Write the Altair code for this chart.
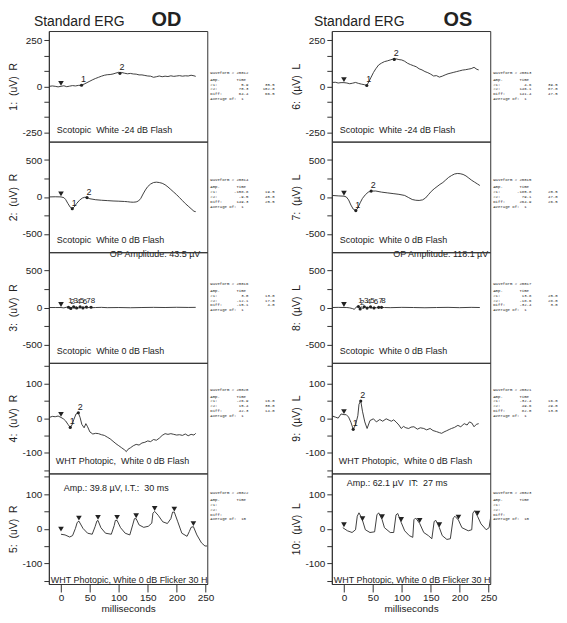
import altair as alt
import pandas as pd

NB = "\u00a0"

# ---------------- data ----------------
# OD (right eye)
od1_t = [-20,-15,-10,-5,0,5,10,15,20,25,30,35,40,45,50,55,60,65,70,75,80,85,90,95,100,102,105,110,115,120,125,130,135,140,145,150,155,160,165,170,175,180,185,190,195,200,205,210,215,220,225,230,233]
od1_v = [0,2,0,-3,0,3,-2,1,4,2,5,6,12,20,28,36,43,49,55,60,63,64,67,72,76,72,75,71,68,70,67,66,62,62,59,56,55,49,52,56,52,55,53,57,54,56,58,55,57,56,60,57,54]

od2_t = [-20,-10,0,5,8,12,16,19.5,23,27,32,37,41,45,50,60,70,80,90,100,110,115,120,125,130,134,138,142,146,150,155,160,165,170,175,180,185,190,195,200,205,210,215,220,225,230,233]
od2_v = [0,2,0,-10,-35,-90,-140,-159,-135,-90,-45,-15,-5,-10,-25,-38,-45,-50,-55,-58,-62,-65,-70,-72,-68,-55,-20,40,95,140,175,195,200,195,185,165,135,100,65,30,-10,-50,-90,-125,-160,-195,-200]

od3_t = [-20,-10,0,5,10,13,15,17,20,23,26,30,34,38,42,46,50,55,60,70,80,100,120,140,160,180,200,220,233]
od3_v = [0,0,0,-5,5,3,-10,-12,8,-8,10,-6,8,-5,6,-3,4,-2,0,2,-2,0,-3,0,2,0,3,1,2]

od4_t = [-20,-15,-10,-5,0,4,8,12,16,19,22,26,30,33,36,40,43,46,50,55,60,65,70,75,80,85,90,95,100,105,110,113,116,120,125,130,135,140,145,150,155,160,165,170,175,180,185,190,195,200,205,210,215,220,225,230,233]
od4_v = [2,5,4,6,2,-2,-8,-18,-27,-20,-5,12,15,2,-18,-28,-16,-25,-40,-46,-44,-45,-48,-50,-55,-60,-67,-74,-80,-86,-92,-97,-90,-86,-80,-76,-78,-72,-70,-66,-68,-62,-64,-58,-50,-45,-47,-45,-47,-49,-48,-50,-46,-51,-47,-49,-44]

od5_t = [0,7,15,20,25,28,31,38,46,54,59,62,64,69,77,87,92,94,97,103,111,119,124,127,130,135,143,151,157,159,162,168,176,184,190,193,196,202,209,218,222,225,229,235,243,249,253]
od5_v = [-16,-18,-24,-20,1,18,22,1,-13,-16,6,22,24,3,-13,-16,9,24,24,3,-13,-18,11,29,29,11,4,7,16,45,50,39,20,15,29,48,48,20,-13,-22,-8,4,6,-18,-41,-50,-50]

# OS (left eye)
os1_t = [-20,-15,-10,-5,0,5,10,15,20,25,30,35,39.5,43,47,51,55,60,65,70,75,80,85,87,90,95,100,105,110,115,120,125,130,135,140,145,150,155,160,165,170,175,180,185,190,195,200,205,210,215,220,225,230,233]
os1_v = [21,22,18,20,20,18,14,17,21,16,12,9,5,25,50,75,95,116,126,134,138,143,148,146,149,145,143,136,125,118,112,106,95,89,80,74,66,56,58,50,55,62,68,72,76,80,84,88,90,93,96,103,92,89]

os2_t = [-20,-10,0,4,8,12,16,20.5,24,28,32,37,42,47,55,65,75,85,95,105,112,118,124,130,136,141,146,151,156,161,166,171,176,181,186,191,196,201,206,211,216,221,226,231,235]
os2_v = [20,14,10,0,-40,-110,-165,-186,-150,-80,-20,30,65,79,80,65,55,45,35,20,-10,-35,-45,-48,-40,-15,30,75,110,140,170,195,230,265,290,310,318,315,305,285,255,225,200,175,155]

os3_t = [-20,-10,0,5,10,15,18,21,24,27,30,33,36,40,44,48,52,56,60,70,80,100,120,140,160,180,200,220,235]
os3_v = [0,2,0,0,-5,-15,-25,5,14,-10,12,-18,10,-8,8,-6,5,-3,2,0,-2,2,0,-3,0,2,-2,2,0]

os4_t = [-20,-15,-10,-5,0,4,8,12,16,20,24,26,29,32,36,40,45,51,56,62,67,73,78,82,86,90,95,99,103,107,112,116,121,127,132,138,143,149,154,160,165,169,173,177,182,186,191,197,202,208,213,217,221,225,229,233]
os4_v = [6,3,0,12,10,10,3,-12,-32,-20,7,40,50,20,-11,-30,-7,-2,-11,-4,-9,-2,-6,-9,-5,-11,-20,-30,-24,-28,-30,-26,-25,-32,-28,-30,-34,-30,-36,-39,-42,-44,-40,-37,-33,-30,-27,-21,-25,-16,-20,-11,-14,-25,-18,-16]

os5_t = [-2,6,14,20,23,26,31,37,45,53,57,60,66,70,80,86,90,93,99,105,113,119,121,124,131,138,146,152,156,159,165,170,178,184,189,192,198,204,215,221,223,226,231,237,246,251,254]
os5_v = [3,-6,-11,-3,36,46,30,-3,-11,-9,40,46,26,3,-11,-11,40,44,18,-6,-20,-25,26,31,15,-11,-20,-29,21,24,3,-20,-31,-29,31,36,25,3,-6,-3,45,52,36,14,-3,3,36]

# stimulus / peak triangles
od_tri = [([0], [0]), ([0], [0]), ([0], [0]), ([0], [2]),
          ([0,31,64,97,130,162,196,229], [-10,22,24,24,29,50,48,6])]
os_tri = [([0], [20]), ([0], [10]), ([0], [0]), ([0], [10]),
          ([0,32,66,99,131,165,198,231], [3,20,26,18,15,3,25,36])]

# numbered cursor markers
od_mk = [([35.5,102], [5.9,70.3], ["1","2"]),
         ([19.5,45], [-158.8,-9.5], ["1","2"]),
         ([13,17,22,27,33,38,44,52], [3,-12.1,8,-6,8,-5,6,4], ["1","2","3","4","5","6","7","8"]),
         ([16,30], [-26.9,15.4], ["1","2"]),
         None]
os_mk = [([39.5,87], [4.6,146.1], ["1","2"]),
         ([20.5,47], [-185.8,79.1], ["1","2"]),
         ([25,28,35,40,46,52,60,65], [13.8,-18.6,10,-8,8,-6,2,2], ["1","2","3","4","5","6","7","8"]),
         ([16,29], [-32.4,49.6], ["1","2"]),
         None]

# measurement boxes
od_info = [("20012", [("#1:", "5.9", "35.5"), ("#2:", "70.3", "102.0"), ("Diff:", "64.4", "66.5")], 1),
           ("20014", [("#1:", "-158.8", "19.5"), ("#2:", "-9.5", "45.0"), ("Diff:", "149.3", "25.5")], 1),
           ("20016", [("#1:", "3.0", "13.0"), ("#2:", "-12.1", "17.0"), ("Diff:", "-15.1", "4.0")], 1),
           ("20020", [("#1:", "-26.9", "16.0"), ("#2:", "15.4", "30.0"), ("Diff:", "42.3", "14.0")], 1),
           ("20022", [("#1:", "", ""), ("#2:", "", ""), ("Diff:", "", "")], 10)]
os_info = [("20013", [("#1:", "4.6", "39.5"), ("#2:", "146.1", "87.0"), ("Diff:", "141.4", "47.5")], 1),
           ("20015", [("#1:", "-185.8", "20.5"), ("#2:", "79.1", "47.0"), ("Diff:", "264.9", "26.5")], 1),
           ("20017", [("#1:", "13.8", "25.0"), ("#2:", "-18.6", "28.0"), ("Diff:", "-32.4", "3.0")], 1),
           ("20021", [("#1:", "-32.4", "16.0"), ("#2:", "49.6", "29.0"), ("Diff:", "82.0", "13.0")], 1),
           ("20023", [("#1:", "", ""), ("#2:", "", ""), ("Diff:", "", "")], 10)]

od_titles = ["1:  (uV)  R", "2:  (uV)  R", "3:  (uV)  R", "4:  (uV)  R", "5:  (uV)  R"]
os_titles = ["6:  (\u00b5V)  L", "7:  (\u00b5V)  L", "8:  (\u00b5V)  L", "9:  (\u00b5V)  L", "10:  (\u00b5V)  L"]

od_labels = ["Scotopic  White -24 dB Flash", "Scotopic  White 0 dB Flash", "Scotopic  White 0 dB Flash",
             "WHT Photopic,  White 0 dB Flash", "WHT Photopic, White 0 dB Flicker 30 Hz"]
os_labels = od_labels
od_extra = ["OP Amplitude: 43.5 \u00b5V", "Amp.: 39.8 \u00b5V, I.T.:  30 ms"]
os_extra = ["OP Amplitude: 118.1 \u00b5V", "Amp.: 62.1 \u00b5V  IT:  27 ms"]

# ---------------- layout / styles ----------------
XDOM = [-21, 253]
XTICKS = [0, 50, 100, 150, 200, 250]
YDOMS = [[-300, 300], [-750, 750], [-750, 750], [-160, 160], [-160, 160]]
YTICKS = [[-250, -500/3, -250/3, 0, 250/3, 500/3, 250],
          [-500, -250, 0, 250, 500], [-500, -250, 0, 250, 500],
          [-150, -100, -50, 0, 50, 100, 150], [-150, -100, -50, 0, 50, 100, 150]]
YMOD = [250, 500, 500, 100, 100]
INFO_OFF = [42, 39, 32, 27, 20]
W, H = 159, 111
INK = "#222222"
one = pd.DataFrame({"k": [0]})


def nb(s):
    return s.replace(" ", NB)


def txt(text, x, y, size=9, align="left", baseline="middle", font="Liberation Sans",
        weight="normal", clip=False, line_height=None):
    kw = dict(text=text, align=align, baseline=baseline, font=font, fontSize=size,
              fontWeight=weight, color=INK)
    if clip:
        kw["clip"] = True
    if line_height:
        kw["lineHeight"] = line_height
    return alt.Chart(one).mark_text(**kw).encode(x=alt.value(x), y=alt.value(y))


def panel(i, t, v, tri, mk, info, ytitle, label, eye, extra, op_dx):
    xs = alt.Scale(domain=XDOM, nice=False, zero=False)
    ys = alt.Scale(domain=YDOMS[i], nice=False, zero=False)
    if i == 4:
        xax = alt.Axis(values=XTICKS, title="milliseconds", tickSize=8, labelPadding=1,
                       titlePadding=1, labelFontSize=10, titleFontSize=10, labelFlush=False)
    else:
        xax = None
    yax = alt.Axis(values=YTICKS[i], title=nb(ytitle), tickSize=5, labelPadding=2, titlePadding=3,
                   labelExpr=f"datum.value % {YMOD[i]} === 0 ? toString(datum.value) : ''")
    X = alt.X("t:Q", scale=xs, axis=xax)
    Y = alt.Y("v:Q", scale=ys, axis=yax)

    layers = [alt.Chart(pd.DataFrame({"t": t, "v": v}))
              .mark_line(color="#2b2b2b", strokeWidth=0.9, clip=True)
              .encode(x=X, y=Y)]
    layers.append(alt.Chart(pd.DataFrame({"t": tri[0], "v": tri[1]}))
                  .mark_point(shape="triangle-down", filled=True, size=32, color=INK,
                              opacity=1, yOffset=-3)
                  .encode(x=X, y=Y))
    if mk is not None:
        mdf = pd.DataFrame({"t": mk[0], "v": mk[1], "lab": mk[2]})
        fs = 8 if len(mk[2]) > 2 else 9
        layers.append(alt.Chart(mdf).mark_point(shape="circle", filled=True, size=10,
                                                color=INK, opacity=1).encode(x=X, y=Y))
        layers.append(alt.Chart(mdf).mark_text(dx=2, dy=-6, fontSize=fs, font="Liberation Sans",
                                               color=INK).encode(x=X, y=Y, text="lab:N"))

    # condition labels
    if i < 4:
        layers.append(txt(nb(label), 8 if i < 3 else 7, H - 12))
    else:
        layers.append(txt(label, 2, H - 4, clip=True))
        layers.append(txt(nb(extra[1]), 15, 15 if eye == "OD" else 10))
    if i == 1:
        layers.append(txt(extra[0], W - op_dx, H + 2, align="right"))
    if i == 0:
        layers.append(txt("Standard ERG", -15 if eye == "OD" else -18, -5, size=14, baseline="alphabetic"))
        layers.append(txt(eye, 103 if eye == "OD" else 112, -5, size=20, weight="bold", baseline="alphabetic"))

    # measurement box
    wave, rows, avg = info
    body = [f"{'':5}{'Amp.':>11}{'Time':>11}"]
    for lab, a, tm in rows:
        body.append(f"{lab:<5}{a:>11}{tm:>11}")
    body += [NB, NB, f"Average of:  {avg}"]
    off = INFO_OFF[i]
    layers.append(txt(nb("Waveform # " + wave), W + 3, off - 2, size=4, baseline="top",
                      font="Liberation Mono"))
    layers.append(txt([nb(b) for b in body], W + 3, off + 5, size=4, baseline="top",
                      font="Liberation Mono", line_height=4.8))
    return alt.layer(*layers).properties(width=W, height=H)


od_t = [od1_t, od2_t, od3_t, od4_t, od5_t]
od_v = [od1_v, od2_v, od3_v, od4_v, od5_v]
os_t = [os1_t, os2_t, os3_t, os4_t, os5_t]
os_v = [os1_v, os2_v, os3_v, os4_v, os5_v]

panels = []
for i in range(5):
    panels.append(panel(i, od_t[i], od_v[i], od_tri[i], od_mk[i], od_info[i], od_titles[i],
                        od_labels[i], "OD", od_extra, 7))
    panels.append(panel(i, os_t[i], os_v[i], os_tri[i], os_mk[i], os_info[i], os_titles[i],
                        os_labels[i], "OS", os_extra, 2))

chart = (
    alt.concat(*panels, columns=2, spacing={"row": 0, "column": 125}, bounds="flush")
    .resolve_scale(x="independent", y="independent")
    .properties(padding={"left": 0, "top": 0, "right": 0, "bottom": 0}, background="white")
    .configure_view(stroke="#333333", strokeWidth=1)
    .configure_axis(labelFont="Liberation Sans", titleFont="Liberation Sans", labelFontSize=10,
                    titleFontSize=10.5, titleFontWeight="normal", labelColor=INK, titleColor=INK,
                    tickColor="#333333", domainColor="#333333", grid=False)
)

chart.save("out.html", embed_options={"renderer": "svg", "actions": False})
